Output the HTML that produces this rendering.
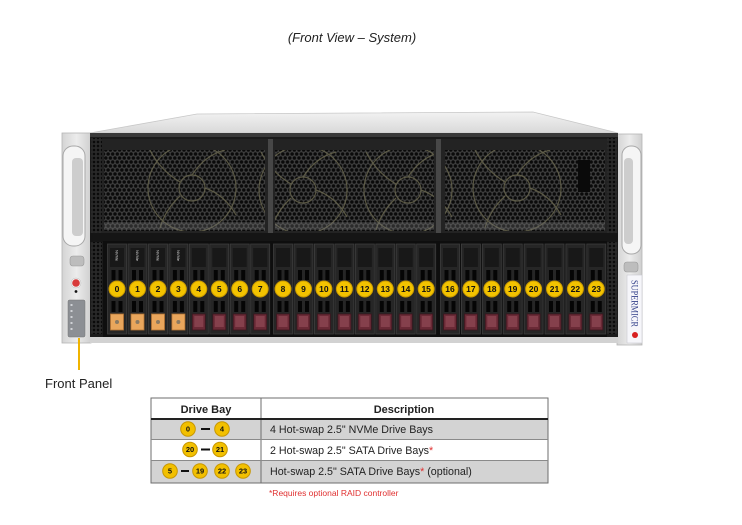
<!DOCTYPE html>
<html><head><meta charset="utf-8"><style>
html,body{margin:0;padding:0;background:#fff;}
svg{display:block;}
</style></head><body>
<svg width="742" height="525" viewBox="0 0 742 525" xmlns="http://www.w3.org/2000/svg" font-family="'Liberation Sans', sans-serif">
<defs>
  <linearGradient id="lid" x1="0" y1="0" x2="0" y2="1">
    <stop offset="0" stop-color="#f2f2f2"/><stop offset="1" stop-color="#d9d9d9"/>
  </linearGradient>
  <linearGradient id="ear" x1="0" y1="0" x2="1" y2="0">
    <stop offset="0" stop-color="#d4d4d4"/><stop offset="0.5" stop-color="#ececec"/><stop offset="1" stop-color="#cfcfcf"/>
  </linearGradient>
  <pattern id="mesh" width="4.6" height="8" patternUnits="userSpaceOnUse">
    <rect width="4.6" height="8" fill="#3f3f3f"/>
    <circle cx="2.3" cy="2" r="1.75" fill="#0a0a0a"/>
    <circle cx="0" cy="6" r="1.75" fill="#0a0a0a"/>
    <circle cx="4.6" cy="6" r="1.75" fill="#0a0a0a"/>
  </pattern>
  <pattern id="perf" width="4" height="4" patternUnits="userSpaceOnUse">
    <rect width="4" height="4" fill="#2a2a2a"/>
    <rect x="0.8" y="0.8" width="2.4" height="2.4" fill="#0a0a0a"/>
  </pattern>
  <clipPath id="meshclip">
    <rect x="104" y="150" width="161" height="81"/>
    <rect x="275" y="150" width="159" height="81"/>
    <rect x="445" y="150" width="160" height="81"/>
  </clipPath>
  <g id="tray">
    <rect x="-9.5" y="244" width="19" height="90" fill="#262626" stroke="#3e3e3e" stroke-width="0.8"/>
    <rect x="-7" y="248" width="14" height="19" fill="#181818"/>
    <rect x="-5.5" y="270" width="4" height="10" fill="#050505"/>
    <rect x="1.5" y="270" width="4" height="10" fill="#050505"/>
    <rect x="-5.5" y="301" width="4" height="11" fill="#050505"/>
    <rect x="1.5" y="301" width="4" height="11" fill="#050505"/>
  </g>
  <g id="tabO">
    <rect x="-6.5" y="314" width="13" height="16" fill="#e9a65c" stroke="#b47434" stroke-width="0.8"/>
    <circle cx="0" cy="322" r="2" fill="#8c7a62"/>
  </g>
  <g id="tabR">
    <rect x="-6.5" y="314" width="13" height="16" fill="#6a2a36" stroke="#3c161e" stroke-width="0.8"/>
    <rect x="-4.5" y="316" width="9" height="11" fill="#85404c"/>
  </g>
  <circle id="badge" cx="0" cy="289" r="8" fill="#f3c300" stroke="#c99a00" stroke-width="1"/>
  <circle id="tb" cx="0" cy="0" r="7.3" fill="#f2c000" stroke="#c79600" stroke-width="1"/>
</defs>

<!-- Title -->
<text x="352" y="42" font-size="13" font-style="italic" text-anchor="middle" fill="#222">(Front View – System)</text>

<!-- Lid -->
<polygon points="197,114 533,112 618,133 90,133" fill="url(#lid)" stroke="#c8c8c8" stroke-width="0.8"/>

<!-- Left ear -->
<rect x="62" y="133" width="29" height="210" fill="url(#ear)" stroke="#b5b5b5" stroke-width="0.8"/>
<rect x="63" y="146" width="22" height="100" rx="10" fill="#f5f5f5" stroke="#a8a8a8" stroke-width="1"/>
<rect x="72" y="158" width="11" height="78" rx="4" fill="#cdcdcd"/>
<rect x="70" y="256" width="14" height="10" rx="3" fill="#bdbdbd" stroke="#9a9a9a" stroke-width="0.6"/>
<circle cx="76" cy="283" r="5" fill="#f0f0f0" stroke="#bbb" stroke-width="0.5"/>
<circle cx="76" cy="283" r="3.8" fill="#d83a3a"/>
<circle cx="76" cy="291.5" r="1.4" fill="#111"/>
<rect x="68" y="300" width="17" height="37" rx="1.5" fill="#8c8f94" stroke="#777" stroke-width="0.5"/>
<g fill="#cfd2d6">
  <rect x="70.5" y="304" width="2" height="2"/><rect x="70.5" y="310" width="2" height="2"/>
  <rect x="70.5" y="316" width="2" height="2"/><rect x="70.5" y="322" width="2" height="2"/>
  <rect x="70.5" y="328" width="2" height="2"/>
</g>

<!-- Right ear -->
<rect x="617" y="134" width="25" height="211" fill="url(#ear)" stroke="#b5b5b5" stroke-width="0.8"/>
<rect x="622" y="146" width="19" height="108" rx="9" fill="#f5f5f5" stroke="#a8a8a8" stroke-width="1"/>
<rect x="624" y="158" width="9" height="86" rx="4" fill="#cdcdcd"/>
<rect x="624" y="262" width="14" height="10" rx="3" fill="#bdbdbd" stroke="#9a9a9a" stroke-width="0.6"/>
<rect x="627" y="275" width="15" height="68" fill="#f6f6fa" stroke="#c9c9cf" stroke-width="0.6"/>
<text x="631.5" y="280" font-family="'Liberation Serif', serif" font-size="9.5" fill="#34418a" transform="rotate(90 631.5 280)" textLength="47" lengthAdjust="spacingAndGlyphs">SUPERMICR</text>
<circle cx="635" cy="335" r="3" fill="#d82020"/>

<!-- Chassis front -->
<rect x="90" y="133" width="528" height="206" fill="#1b1b1b"/>
<rect x="90" y="133" width="528" height="4" fill="#3a3a3a"/>
<rect x="91" y="138" width="11" height="196" fill="url(#perf)"/>
<rect x="607" y="138" width="10" height="196" fill="url(#perf)"/>

<!-- Fan cages -->
<rect x="102" y="139" width="166" height="94" fill="#232323"/>
<rect x="273" y="139" width="163" height="94" fill="#232323"/>
<rect x="441" y="139" width="166" height="94" fill="#232323"/>
<rect x="268" y="139" width="5" height="94" fill="#474747"/>
<rect x="436" y="139" width="5" height="94" fill="#474747"/>
<rect x="104" y="150" width="161" height="81" fill="url(#mesh)"/>
<rect x="275" y="150" width="159" height="81" fill="url(#mesh)"/>
<rect x="445" y="150" width="160" height="81" fill="url(#mesh)"/>
<g clip-path="url(#meshclip)" fill="none" stroke="#6b684f" stroke-width="1.2" opacity="0.8">
  <circle cx="192" cy="188" r="13"/><circle cx="192" cy="188" r="44"/>
  <circle cx="303" cy="190" r="13"/><circle cx="303" cy="190" r="44"/>
  <circle cx="408" cy="190" r="13"/><circle cx="408" cy="190" r="44"/>
  <circle cx="517" cy="188" r="13"/><circle cx="517" cy="188" r="44"/>
  <path d="M192,175 Q205,155 225,150 M205,188 Q225,195 236,215 M180,196 Q165,210 160,228 M180,182 Q160,170 150,150"/>
  <path d="M303,177 Q316,157 336,152 M316,190 Q336,197 347,217 M291,198 Q276,212 271,230 M291,184 Q271,172 261,152"/>
  <path d="M408,177 Q421,157 441,152 M421,190 Q441,197 452,217 M396,198 Q381,212 376,230 M396,184 Q376,172 366,152"/>
  <path d="M517,175 Q530,155 550,150 M530,188 Q550,195 561,215 M505,196 Q490,210 485,228 M505,182 Q485,170 475,150"/>
</g>
<rect x="104" y="222" width="161" height="8" fill="#7a7a7a" opacity="0.3"/>
<rect x="275" y="222" width="159" height="8" fill="#7a7a7a" opacity="0.3"/>
<rect x="445" y="222" width="160" height="8" fill="#7a7a7a" opacity="0.3"/>
<rect x="578" y="160" width="12" height="32" fill="#0a0a0a"/>
<rect x="90" y="233" width="528" height="9" fill="#151515"/>

<!-- Drive cage -->
<rect x="103" y="241" width="504" height="96" fill="#0e0e0e"/>
<g>
<use href="#tray" x="117"/><use href="#tray" x="137.5"/><use href="#tray" x="158"/><use href="#tray" x="178.4"/>
<use href="#tray" x="198.8"/><use href="#tray" x="219.3"/><use href="#tray" x="239.7"/><use href="#tray" x="260.2"/>
<use href="#tray" x="283"/><use href="#tray" x="303.5"/><use href="#tray" x="323.9"/><use href="#tray" x="344.4"/>
<use href="#tray" x="364.8"/><use href="#tray" x="385.3"/><use href="#tray" x="405.7"/><use href="#tray" x="426.2"/>
<use href="#tray" x="450"/><use href="#tray" x="470.9"/><use href="#tray" x="491.8"/><use href="#tray" x="512.7"/>
<use href="#tray" x="533.6"/><use href="#tray" x="554.5"/><use href="#tray" x="575.4"/><use href="#tray" x="596.3"/>
</g>
<g font-size="4" fill="#d8d8d8">
  <text transform="translate(115.5,250) rotate(90)">NVMe</text>
  <text transform="translate(136,250) rotate(90)">NVMe</text>
  <text transform="translate(156.5,250) rotate(90)">NVMe</text>
  <text transform="translate(176.9,250) rotate(90)">NVMe</text>
</g>
<g>
<use href="#tabO" x="117"/><use href="#tabO" x="137.5"/><use href="#tabO" x="158"/><use href="#tabO" x="178.4"/>
<use href="#tabR" x="198.8"/><use href="#tabR" x="219.3"/><use href="#tabR" x="239.7"/><use href="#tabR" x="260.2"/>
<use href="#tabR" x="283"/><use href="#tabR" x="303.5"/><use href="#tabR" x="323.9"/><use href="#tabR" x="344.4"/>
<use href="#tabR" x="364.8"/><use href="#tabR" x="385.3"/><use href="#tabR" x="405.7"/><use href="#tabR" x="426.2"/>
<use href="#tabR" x="450"/><use href="#tabR" x="470.9"/><use href="#tabR" x="491.8"/><use href="#tabR" x="512.7"/>
<use href="#tabR" x="533.6"/><use href="#tabR" x="554.5"/><use href="#tabR" x="575.4"/><use href="#tabR" x="596.3"/>
</g>
<g>
<use href="#badge" x="117"/><use href="#badge" x="137.5"/><use href="#badge" x="158"/><use href="#badge" x="178.4"/>
<use href="#badge" x="198.8"/><use href="#badge" x="219.3"/><use href="#badge" x="239.7"/><use href="#badge" x="260.2"/>
<use href="#badge" x="283"/><use href="#badge" x="303.5"/><use href="#badge" x="323.9"/><use href="#badge" x="344.4"/>
<use href="#badge" x="364.8"/><use href="#badge" x="385.3"/><use href="#badge" x="405.7"/><use href="#badge" x="426.2"/>
<use href="#badge" x="450"/><use href="#badge" x="470.9"/><use href="#badge" x="491.8"/><use href="#badge" x="512.7"/>
<use href="#badge" x="533.6"/><use href="#badge" x="554.5"/><use href="#badge" x="575.4"/><use href="#badge" x="596.3"/>
</g>
<g font-size="8.5" font-weight="bold" text-anchor="middle" fill="#111">
<text x="117" y="292">0</text><text x="137.5" y="292">1</text><text x="158" y="292">2</text><text x="178.4" y="292">3</text>
<text x="198.8" y="292">4</text><text x="219.3" y="292">5</text><text x="239.7" y="292">6</text><text x="260.2" y="292">7</text>
<text x="283" y="292">8</text><text x="303.5" y="292">9</text><text x="323.9" y="292">10</text><text x="344.4" y="292">11</text>
<text x="364.8" y="292">12</text><text x="385.3" y="292">13</text><text x="405.7" y="292">14</text><text x="426.2" y="292">15</text>
<text x="450" y="292">16</text><text x="470.9" y="292">17</text><text x="491.8" y="292">18</text><text x="512.7" y="292">19</text>
<text x="533.6" y="292">20</text><text x="554.5" y="292">21</text><text x="575.4" y="292">22</text><text x="596.3" y="292">23</text>
</g>

<!-- Bottom strip -->
<rect x="90" y="337" width="528" height="6" fill="#d2d2d2"/>

<!-- Front panel callout -->
<line x1="79" y1="338" x2="79" y2="370" stroke="#f0b400" stroke-width="2"/>
<text x="45" y="388" font-size="13" fill="#222">Front Panel</text>

<!-- Table -->
<rect x="151" y="398" width="397" height="21" fill="#fff"/>
<rect x="151" y="419" width="397" height="20" fill="#d3d3d3"/>
<rect x="151" y="439" width="397" height="21" fill="#fff"/>
<rect x="151" y="460" width="397" height="23" fill="#d3d3d3"/>
<rect x="151" y="398" width="397" height="85" fill="none" stroke="#6e6e6e" stroke-width="1"/>
<line x1="261" y1="398" x2="261" y2="483" stroke="#6e6e6e" stroke-width="1"/>
<line x1="151" y1="419" x2="548" y2="419" stroke="#222" stroke-width="2"/>
<line x1="151" y1="439.5" x2="548" y2="439.5" stroke="#8a8a8a" stroke-width="1"/>
<line x1="151" y1="460.5" x2="548" y2="460.5" stroke="#8a8a8a" stroke-width="1"/>
<text x="206" y="413" font-size="11" font-weight="bold" text-anchor="middle" fill="#222">Drive Bay</text>
<text x="404" y="413" font-size="11" font-weight="bold" text-anchor="middle" fill="#222">Description</text>

<g font-size="10.7" fill="#222">
  <text x="270" y="433">4 Hot-swap 2.5" NVMe Drive Bays</text>
  <text x="270" y="454">2 Hot-swap 2.5" SATA Drive Bays<tspan fill="#e03030">*</tspan></text>
  <text x="270" y="475">Hot-swap 2.5" SATA Drive Bays<tspan fill="#e03030">*</tspan> (optional)</text>
</g>

<!-- table badges -->
<use href="#tb" x="188" y="429"/><use href="#tb" x="222" y="429"/>
<use href="#tb" x="190" y="449.5"/><use href="#tb" x="220" y="449.5"/>
<use href="#tb" x="170" y="471"/><use href="#tb" x="200" y="471"/><use href="#tb" x="222" y="471"/><use href="#tb" x="243" y="471"/>
<g stroke="#111" stroke-width="2">
  <line x1="201" y1="429" x2="210" y2="429"/>
  <line x1="201" y1="449.5" x2="210" y2="449.5"/>
  <line x1="181" y1="471" x2="189" y2="471"/>
</g>
<g font-size="7.5" font-weight="bold" text-anchor="middle" fill="#111">
  <text x="188" y="431.7">0</text><text x="222" y="431.7">4</text>
  <text x="190" y="452.2">20</text><text x="220" y="452.2">21</text>
  <text x="170" y="473.7">5</text><text x="200" y="473.7">19</text><text x="222" y="473.7">22</text><text x="243" y="473.7">23</text>
</g>

<text x="269" y="496" font-size="8.5" fill="#e03030">*Requires optional RAID controller</text>
</svg>
</body></html>
